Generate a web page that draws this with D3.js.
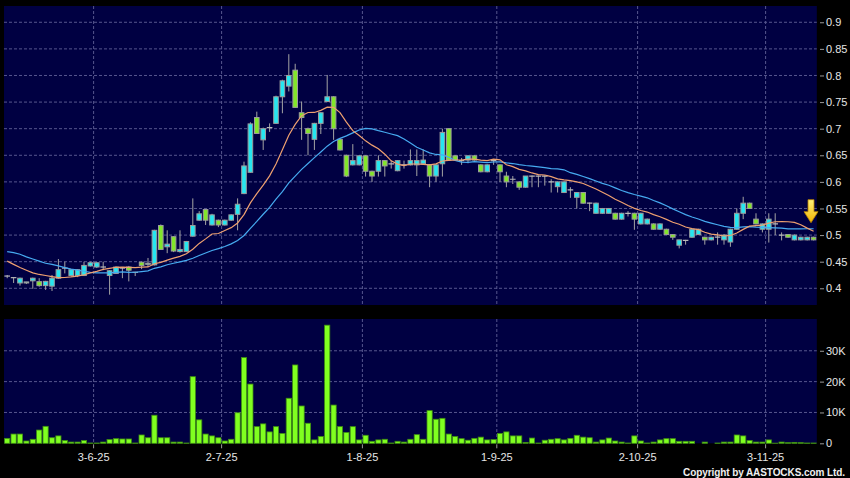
<!DOCTYPE html>
<html>
<head>
<meta charset="utf-8">
<script src="https://cdn.jsdelivr.net/npm/d3@7"></script>
<style>
body { margin: 0; background: #000; }
svg { display: block; font-family: Arial, "Liberation Sans", sans-serif; }
</style>
</head>
<body>
<svg id="chart" width="850" height="478"></svg>
<script>
// trading days shown (D-M-YY)
var dates = [
 "13-5-25","14-5-25","15-5-25","16-5-25","19-5-25","20-5-25","21-5-25","22-5-25","23-5-25","26-5-25","27-5-25","28-5-25","29-5-25","30-5-25",
 "3-6-25","4-6-25","5-6-25","6-6-25","9-6-25","10-6-25","11-6-25","12-6-25","13-6-25","16-6-25","17-6-25","18-6-25","19-6-25","20-6-25","23-6-25","24-6-25","25-6-25","26-6-25","27-6-25","30-6-25",
 "2-7-25","3-7-25","4-7-25","7-7-25","8-7-25","9-7-25","10-7-25","11-7-25","14-7-25","15-7-25","16-7-25","17-7-25","18-7-25","21-7-25","22-7-25","23-7-25","24-7-25","25-7-25","28-7-25","29-7-25","30-7-25","31-7-25",
 "1-8-25","4-8-25","5-8-25","6-8-25","7-8-25","8-8-25","11-8-25","12-8-25","13-8-25","14-8-25","15-8-25","18-8-25","19-8-25","20-8-25","21-8-25","22-8-25","25-8-25","26-8-25","27-8-25","28-8-25","29-8-25",
 "1-9-25","2-9-25","3-9-25","4-9-25","5-9-25","8-9-25","9-9-25","10-9-25","11-9-25","12-9-25","15-9-25","16-9-25","17-9-25","18-9-25","19-9-25","22-9-25","23-9-25","24-9-25","25-9-25","26-9-25","29-9-25","30-9-25",
 "2-10-25","3-10-25","6-10-25","8-10-25","9-10-25","10-10-25","13-10-25","14-10-25","15-10-25","16-10-25","17-10-25","20-10-25","21-10-25","22-10-25","23-10-25","24-10-25","27-10-25","28-10-25","30-10-25","31-10-25",
 "3-11-25","4-11-25","5-11-25","6-11-25","7-11-25","10-11-25","11-11-25","12-11-25"
];

var open = [
 0.423,0.42,0.41,0.41,0.414,0.4125,0.405,0.404,0.419,0.438,
 0.424,0.424,0.424,0.442,0.44,0.44,0.424,0.428,0.438,0.44,
 0.43,0.449,0.445,0.444,0.518,0.478,0.497,0.469,0.469,0.498,
 0.528,0.548,0.519,0.528,0.519,0.528,0.539,0.578,0.618,0.721,
 0.679,0.702,0.71,0.76,0.78,0.81,0.73,0.70,0.68,0.71,
 0.751,0.76,0.68,0.65,0.632,0.632,0.649,0.62,0.62,0.64,
 0.634,0.621,0.632,0.632,0.632,0.634,0.632,0.611,0.634,0.70,
 0.649,0.64,0.641,0.649,0.632,0.619,0.64,0.632,0.611,0.605,
 0.60,0.59,0.611,0.611,0.611,0.60,0.591,0.58,0.585,0.571,
 0.58,0.56,0.541,0.541,0.541,0.541,0.53,0.541,0.541,0.521,
 0.521,0.521,0.511,0.511,0.501,0.481,0.49,0.496,0.501,0.496,
 0.491,0.496,0.491,0.487,0.511,0.541,0.56,0.53,0.511,0.511,
 0.521,0.50,0.501,0.491,0.491,0.491,0.496
];
var high = [
 0.425,0.421,0.42,0.412,0.42,0.419,0.414,0.425,0.455,0.45,
 0.436,0.436,0.45,0.45,0.449,0.45,0.434,0.441,0.44,0.442,
 0.431,0.45,0.457,0.51,0.52,0.509,0.498,0.509,0.489,0.569,
 0.545,0.549,0.54,0.529,0.529,0.539,0.569,0.638,0.712,0.732,
 0.702,0.71,0.762,0.792,0.84,0.822,0.751,0.702,0.711,0.731,
 0.801,0.761,0.681,0.651,0.671,0.65,0.65,0.621,0.65,0.641,
 0.64,0.641,0.64,0.661,0.661,0.661,0.633,0.633,0.70,0.701,
 0.65,0.645,0.65,0.65,0.633,0.633,0.641,0.633,0.619,0.611,
 0.601,0.611,0.612,0.612,0.612,0.605,0.601,0.601,0.59,0.581,
 0.581,0.561,0.561,0.551,0.551,0.542,0.542,0.545,0.542,0.542,
 0.531,0.522,0.522,0.512,0.502,0.491,0.491,0.512,0.512,0.497,
 0.497,0.505,0.502,0.512,0.55,0.572,0.561,0.541,0.522,0.541,
 0.541,0.505,0.502,0.501,0.497,0.497,0.497
];
var low = [
 0.419,0.41,0.405,0.408,0.399,0.403,0.397,0.395,0.418,0.428,
 0.422,0.421,0.423,0.441,0.438,0.434,0.388,0.427,0.419,0.413,
 0.423,0.436,0.44,0.443,0.472,0.466,0.468,0.467,0.468,0.497,
 0.527,0.519,0.518,0.515,0.518,0.527,0.509,0.577,0.617,0.69,
 0.66,0.694,0.709,0.729,0.77,0.739,0.679,0.65,0.66,0.69,
 0.75,0.679,0.659,0.609,0.631,0.631,0.61,0.60,0.61,0.61,
 0.625,0.62,0.625,0.631,0.611,0.633,0.59,0.60,0.61,0.64,
 0.64,0.632,0.635,0.64,0.618,0.618,0.632,0.60,0.59,0.596,
 0.585,0.589,0.59,0.59,0.593,0.58,0.58,0.579,0.57,0.55,
 0.559,0.545,0.54,0.54,0.54,0.529,0.529,0.535,0.51,0.52,
 0.52,0.51,0.51,0.50,0.491,0.475,0.482,0.495,0.50,0.482,
 0.49,0.482,0.482,0.478,0.51,0.53,0.549,0.52,0.505,0.486,
 0.50,0.49,0.495,0.49,0.49,0.49,0.49
];
var close = [
 0.423,0.42,0.419,0.412,0.419,0.405,0.413,0.419,0.435,0.438,
 0.435,0.435,0.443,0.448,0.448,0.44,0.433,0.44,0.438,0.434,
 0.43,0.443,0.447,0.509,0.473,0.483,0.47,0.473,0.488,0.518,
 0.54,0.528,0.538,0.519,0.528,0.538,0.558,0.63,0.709,0.691,
 0.70,0.702,0.76,0.79,0.80,0.74,0.721,0.691,0.71,0.73,
 0.76,0.70,0.66,0.611,0.64,0.649,0.62,0.611,0.64,0.63,
 0.634,0.64,0.632,0.64,0.64,0.641,0.611,0.632,0.693,0.641,
 0.641,0.64,0.649,0.641,0.619,0.632,0.64,0.619,0.60,0.605,
 0.59,0.611,0.611,0.611,0.611,0.60,0.60,0.60,0.585,0.58,
 0.56,0.56,0.56,0.55,0.55,0.53,0.541,0.541,0.53,0.541,
 0.53,0.511,0.521,0.501,0.496,0.491,0.49,0.511,0.511,0.491,
 0.496,0.496,0.50,0.511,0.541,0.56,0.55,0.521,0.521,0.53,
 0.521,0.50,0.496,0.50,0.496,0.496,0.491
];
var volume = [
 1600,3000,3000,750,1300,4300,5500,1800,2400,900,
 400,400,900,100,100,400,1200,1500,1400,1400,
 100,2700,1800,9100,1800,1800,400,400,100,21600,
 7600,3000,2400,1800,750,1300,9900,27800,19200,5400,
 6300,3700,5400,3200,14600,25400,12100,6500,1100,2200,
 38300,12400,5400,3500,5400,1100,2600,650,1100,1300,
 100,650,400,1300,2800,1300,10600,7800,8100,3000,
 2200,1500,1000,1600,2000,1100,1200,3200,3700,2400,
 2400,300,1700,100,1000,1300,1500,1100,1600,2600,
 2000,1800,400,1100,1700,750,400,100,2400,750,
 100,400,1100,1500,1500,650,650,650,0,400,
 0,100,400,400,2700,2400,900,400,400,1100,
 50,400,200,300,200,100,100
];
// moving-average values before a full window is available
var ma10Head = [0.451,0.445,0.439,0.434,0.429,0.426,0.424,0.422,0.420];
var ma20Head = [0.469,0.467,0.464,0.459,0.455,0.451,0.447,0.445,0.442,0.439,
                0.436,0.434,0.432,0.430,0.429,0.429,0.429,0.430,0.431];

var priceTicks = [0.4,0.45,0.5,0.55,0.6,0.65,0.7,0.75,0.8,0.85,0.9];
var volTicks = [0,10000,20000,30000];
var monthTicks = ["3-6-25","2-7-25","1-8-25","1-9-25","2-10-25","3-11-25"];

var svg = d3.select("#chart");
var left = 4, right = 816.8;
var pTop = 6, pBot = 305, vTop = 319, vBot = 443.3;
var gridColor = "#56568e";

svg.append("rect").attr("width", 850).attr("height", 478).attr("fill", "#000");

var x = d3.scaleBand().domain(dates).range([left, right]);
var bw = x.bandwidth();
function cx(i) { return x(dates[i]) + bw / 2; }
var y = d3.scaleLinear().domain([0.3686, 0.9306]).range([pBot, pTop]);
var yv = d3.scaleLinear().domain([0, 40300]).range([vBot, vTop]);

svg.append("rect").attr("x", left).attr("y", pTop).attr("width", right - left).attr("height", pBot - pTop).attr("fill", "#000042");
svg.append("rect").attr("x", left).attr("y", vTop).attr("width", right - left).attr("height", vBot - vTop).attr("fill", "#000042");

svg.append("clipPath").attr("id", "pclip").append("rect")
   .attr("x", left).attr("y", pTop).attr("width", right - left).attr("height", pBot - pTop);

// grid
var grid = svg.append("g").attr("stroke", gridColor).attr("stroke-dasharray", "3,2").attr("stroke-width", 1);
grid.selectAll(".hp").data(priceTicks).enter().append("line")
    .attr("x1", left).attr("x2", right).attr("y1", function(d) { return y(d); }).attr("y2", function(d) { return y(d); });
grid.selectAll(".hv").data(volTicks.slice(1)).enter().append("line")
    .attr("x1", left).attr("x2", right).attr("y1", function(d) { return yv(d); }).attr("y2", function(d) { return yv(d); });
grid.selectAll(".vp").data(monthTicks).enter().append("line")
    .attr("x1", function(d) { return x(d); }).attr("x2", function(d) { return x(d); }).attr("y1", pTop).attr("y2", pBot);
grid.selectAll(".vv").data(monthTicks).enter().append("line")
    .attr("x1", function(d) { return x(d); }).attr("x2", function(d) { return x(d); }).attr("y1", vTop).attr("y2", vBot);

// candles
var idx = d3.range(dates.length);
var cg = svg.append("g").attr("clip-path", "url(#pclip)");
cg.selectAll(".wick").data(idx).enter().append("line")
  .attr("x1", cx).attr("x2", cx)
  .attr("y1", function(i) { return y(high[i]); })
  .attr("y2", function(i) { return y(low[i]); })
  .attr("stroke", "#a4a4a4").attr("stroke-width", 1);

cg.selectAll(".body").data(idx.filter(function(i) { return open[i] !== close[i]; })).enter().append("rect")
  .attr("x", function(i) { return cx(i) - 2.3; })
  .attr("width", 4.6)
  .attr("y", function(i) { return y(Math.max(open[i], close[i])); })
  .attr("height", function(i) { return Math.max(1, Math.abs(y(open[i]) - y(close[i]))); })
  .attr("fill", function(i) { return close[i] > open[i] ? "#26e6f0" : "#82e62a"; })
  .attr("stroke", "#9c9c9c").attr("stroke-width", 1);

cg.selectAll(".doji").data(idx.filter(function(i) { return open[i] === close[i]; })).enter().append("line")
  .attr("x1", function(i) { return cx(i) - 2.8; })
  .attr("x2", function(i) { return cx(i) + 2.8; })
  .attr("y1", function(i) { return y(close[i]); })
  .attr("y2", function(i) { return y(close[i]); })
  .attr("stroke", "#b8b8b8").attr("stroke-width", 1.2);

// moving averages
function sma(n, head) {
  return close.map(function(c, i) {
    return i < n - 1 ? head[i] : d3.mean(close.slice(i - n + 1, i + 1));
  });
}
var line = d3.line().x(function(d, i) { return cx(i); }).y(function(d) { return y(d); });
cg.append("path").attr("d", line(sma(20, ma20Head))).attr("fill", "none").attr("stroke", "#46aaf0").attr("stroke-width", 1.2);
cg.append("path").attr("d", line(sma(10, ma10Head))).attr("fill", "none").attr("stroke", "#eea070").attr("stroke-width", 1.2);

// volume
svg.append("g").selectAll("rect").data(idx).enter().append("rect")
   .attr("x", function(i) { return cx(i) - 2.6; })
   .attr("width", 5.2)
   .attr("y", function(i) { return yv(volume[i]); })
   .attr("height", function(i) { return vBot - yv(volume[i]); })
   .attr("fill", "#80ff20").attr("stroke", "#3f8f12").attr("stroke-width", 0.8);

// arrow marker over last candle
var defs = svg.append("defs");
var grad = defs.append("linearGradient").attr("id", "arrowGrad").attr("x1", 0).attr("y1", 0).attr("x2", 0).attr("y2", 1);
grad.append("stop").attr("offset", "0%").attr("stop-color", "#fff27a");
grad.append("stop").attr("offset", "100%").attr("stop-color", "#f2b400");
var last = dates.length - 1;
var ax = cx(last) - 2.6, at = y(high[last]) - 37;
svg.append("path")
   .attr("d", "M" + (ax - 3) + "," + at + "h6v12h4l-7,11l-7,-11h4z")
   .attr("fill", "url(#arrowGrad)").attr("stroke", "#b88200").attr("stroke-width", 0.8);

// axes
function styleAxis(g) {
  g.select(".domain").remove();
  g.selectAll(".tick line").attr("stroke", "#9a9a9a");
  g.selectAll(".tick text").attr("fill", "#e6e6e6").attr("font-size", "11px").attr("font-family", "Arial, 'Liberation Sans', sans-serif");
}
svg.append("g").attr("transform", "translate(820,0)")
   .call(d3.axisRight(y).tickValues(priceTicks).tickSize(4).tickPadding(2).tickFormat(d3.format("")))
   .call(styleAxis);
svg.append("g").attr("transform", "translate(820,0)")
   .call(d3.axisRight(yv).tickValues(volTicks).tickSize(4).tickPadding(2)
     .tickFormat(function(d) { return d === 0 ? "0" : (d / 1000) + "K"; }))
   .call(styleAxis);
svg.append("g").attr("transform", "translate(" + (-bw / 2) + "," + (vBot + 1) + ")")
   .call(d3.axisBottom(x).tickValues(monthTicks).tickSize(4).tickPadding(5))
   .call(styleAxis);

svg.append("text")
   .attr("x", 683).attr("y", 476)
   .attr("textLength", 162).attr("lengthAdjust", "spacing")
   .attr("fill", "#f0f0f0").attr("font-size", "10px").attr("font-weight", "bold")
   .text("Copyright by AASTOCKS.com Ltd.");
</script>
</body>
</html>
